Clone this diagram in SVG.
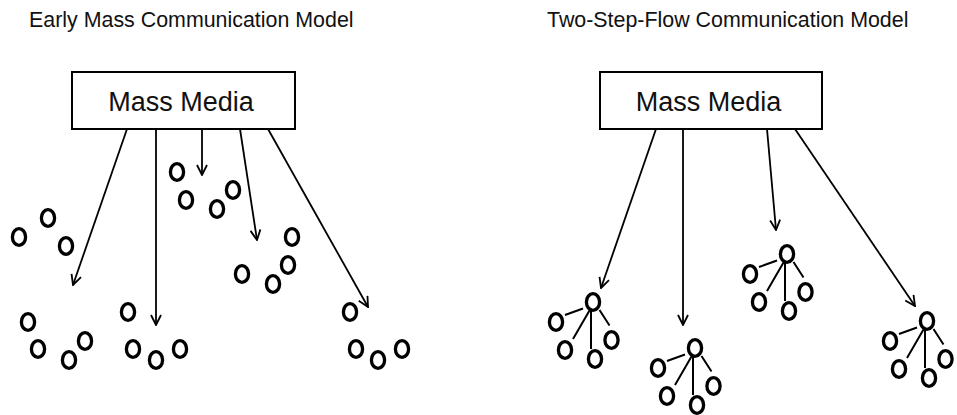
<svg xmlns="http://www.w3.org/2000/svg" width="957" height="415" viewBox="0 0 957 415">
<style>
.title{font-family:"Liberation Sans",Arial,sans-serif;font-size:21.4px;fill:#111}
.box{fill:#fff;stroke:#000;stroke-width:2}
.lbl{font-family:"Liberation Sans",Arial,sans-serif;font-size:27px;fill:#111;text-anchor:middle}
.c{fill:none;stroke:#000;stroke-width:3.3}
.ln{stroke:#000;stroke-width:2;fill:none}
.ar{stroke:#000;stroke-width:1.8;fill:none;marker-end:url(#ah)}
</style>
<defs>
<marker id="ah" viewBox="0 0 12 12" refX="11" refY="6" markerWidth="12" markerHeight="12" markerUnits="userSpaceOnUse" orient="auto">
<path d="M1,1 L11,6 L1,11" fill="none" stroke="#000" stroke-width="1.8"/>
</marker>
</defs>
<text class="title" x="29" y="26.5">Early Mass Communication Model</text>
<text class="title" x="547" y="26.5">Two-Step-Flow Communication Model</text>

<g id="media-left"><rect class="box" x="72" y="72" width="223" height="57"/><text class="lbl" x="181" y="111">Mass Media</text></g>
<g id="media-right"><rect class="box" x="600" y="72" width="222" height="57"/><text class="lbl" x="708.5" y="111">Mass Media</text></g>

<g id="connectors">
<line class="ar" x1="127" y1="129" x2="73" y2="285"/>
<line class="ar" x1="156" y1="129" x2="156" y2="325"/>
<line class="ar" x1="202" y1="129" x2="202" y2="175"/>
<line class="ar" x1="240" y1="129" x2="257" y2="240"/>
<line class="ar" x1="268" y1="129" x2="368" y2="307"/>
<line class="ar" x1="656" y1="129" x2="601" y2="288"/>
<line class="ar" x1="683" y1="129" x2="683" y2="325"/>
<line class="ar" x1="767" y1="129" x2="776" y2="230"/>
<line class="ar" x1="795" y1="129" x2="915" y2="306"/>
</g>

<g id="audience-left">
<ellipse class="c" cx="177" cy="172" rx="6.6" ry="8.3"/>
<ellipse class="c" cx="186" cy="200" rx="6.6" ry="8.3"/>
<ellipse class="c" cx="217" cy="209" rx="6.6" ry="8.3"/>
<ellipse class="c" cx="233" cy="190" rx="6.6" ry="8.3"/>
<ellipse class="c" cx="48" cy="218" rx="6.6" ry="8.3"/>
<ellipse class="c" cx="19" cy="237" rx="6.6" ry="8.3"/>
<ellipse class="c" cx="66" cy="246" rx="6.6" ry="8.3"/>
<ellipse class="c" cx="292" cy="237" rx="6.6" ry="8.3"/>
<ellipse class="c" cx="288" cy="265" rx="6.6" ry="8.3"/>
<ellipse class="c" cx="242" cy="274" rx="6.6" ry="8.3"/>
<ellipse class="c" cx="273" cy="284" rx="6.6" ry="8.3"/>
<ellipse class="c" cx="28" cy="322" rx="6.6" ry="8.3"/>
<ellipse class="c" cx="38" cy="349" rx="6.6" ry="8.3"/>
<ellipse class="c" cx="69" cy="360" rx="6.6" ry="8.3"/>
<ellipse class="c" cx="85" cy="341" rx="6.6" ry="8.3"/>
<ellipse class="c" cx="128" cy="312" rx="6.6" ry="8.3"/>
<ellipse class="c" cx="133" cy="349" rx="6.6" ry="8.3"/>
<ellipse class="c" cx="156" cy="360" rx="6.6" ry="8.3"/>
<ellipse class="c" cx="180" cy="349" rx="6.6" ry="8.3"/>
<ellipse class="c" cx="350" cy="312" rx="6.6" ry="8.3"/>
<ellipse class="c" cx="356" cy="349" rx="6.6" ry="8.3"/>
<ellipse class="c" cx="378" cy="360" rx="6.6" ry="8.3"/>
<ellipse class="c" cx="402" cy="349" rx="6.6" ry="8.3"/>
</g>

<g id="cluster-a" transform="translate(593,302)">
<ellipse class="c" cx="0" cy="0" rx="6.6" ry="8.3"/><ellipse class="c" cx="-37" cy="20" rx="6.6" ry="8.3"/><ellipse class="c" cx="-28" cy="48" rx="6.6" ry="8.3"/><ellipse class="c" cx="2" cy="57" rx="6.6" ry="8.3"/><ellipse class="c" cx="18.5" cy="38" rx="6.6" ry="8.3"/>
<path class="ln" d="M-28,13L-10,6.5M-3.5,8.5L-20,37M-2,8.5L-2,47M6.5,8L16.5,23.5"/>
</g>
<g id="cluster-b" transform="translate(695,348)">
<ellipse class="c" cx="0" cy="0" rx="6.6" ry="8.3"/><ellipse class="c" cx="-37" cy="20" rx="6.6" ry="8.3"/><ellipse class="c" cx="-28" cy="48" rx="6.6" ry="8.3"/><ellipse class="c" cx="2" cy="57" rx="6.6" ry="8.3"/><ellipse class="c" cx="18.5" cy="38" rx="6.6" ry="8.3"/>
<path class="ln" d="M-28,13L-10,6.5M-3.5,8.5L-20,37M-2,8.5L-2,47M6.5,8L16.5,23.5"/>
</g>
<g id="cluster-c" transform="translate(787,254)">
<ellipse class="c" cx="0" cy="0" rx="6.6" ry="8.3"/><ellipse class="c" cx="-37" cy="20" rx="6.6" ry="8.3"/><ellipse class="c" cx="-28" cy="48" rx="6.6" ry="8.3"/><ellipse class="c" cx="2" cy="57" rx="6.6" ry="8.3"/><ellipse class="c" cx="18.5" cy="38" rx="6.6" ry="8.3"/>
<path class="ln" d="M-28,13L-10,6.5M-3.5,8.5L-20,37M-2,8.5L-2,47M6.5,8L16.5,23.5"/>
</g>
<g id="cluster-d" transform="translate(927,321)">
<ellipse class="c" cx="0" cy="0" rx="6.6" ry="8.3"/><ellipse class="c" cx="-37" cy="20" rx="6.6" ry="8.3"/><ellipse class="c" cx="-28" cy="48" rx="6.6" ry="8.3"/><ellipse class="c" cx="2" cy="57" rx="6.6" ry="8.3"/><ellipse class="c" cx="18.5" cy="38" rx="6.6" ry="8.3"/>
<path class="ln" d="M-28,13L-10,6.5M-3.5,8.5L-20,37M-2,8.5L-2,47M6.5,8L16.5,23.5"/>
</g>
</svg>
